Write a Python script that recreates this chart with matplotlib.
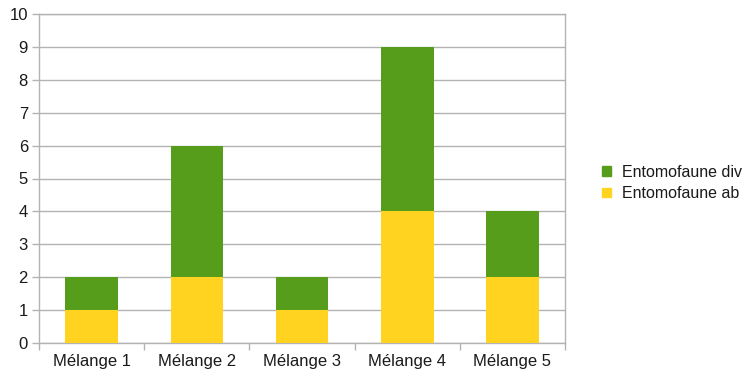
import matplotlib
matplotlib.use("Agg")
import matplotlib.pyplot as plt
from matplotlib.patches import Patch
import numpy as np

categories = ["Mélange 1", "Mélange 2", "Mélange 3", "Mélange 4", "Mélange 5"]
ab = [1, 2, 1, 4, 2]
div = [1, 4, 1, 5, 2]
yticks = list(range(0, 11))

yellow = "#FFD320"
green = "#579D1C"
grey = "#B3B3B3"

plt.rcParams['font.family'] = ['Liberation Sans', 'DejaVu Sans']

fig = plt.figure(figsize=(7.45, 3.77), dpi=100)
ax = fig.add_axes([39 / 745, 1 - 343 / 377, 526 / 745, 329 / 377])

x = np.arange(len(categories))
ax.bar(x, ab, width=0.5, color=yellow, zorder=3)
ax.bar(x, div, width=0.5, bottom=ab, color=green, zorder=3)

ax.set_xlim(-0.5, len(categories) - 0.5)
ax.set_ylim(0, 10)
ax.set_yticks(yticks)
ax.yaxis.grid(True, color=grey, linewidth=1, zorder=0)

ax.set_xticks(x)
ax.set_xticklabels(categories)
ax.set_xticks(np.arange(-0.5, len(categories)), minor=True)
ax.tick_params(axis='x', which='major', length=0, pad=8, labelsize=12)
ax.tick_params(axis='x', which='minor', length=5, color=grey, width=1)
ax.tick_params(axis='y', length=5, color=grey, width=1, pad=3, labelsize=12)
for t in ax.get_xticklabels() + ax.get_yticklabels():
    t.set_color("#1a1a1a")

for s in ax.spines.values():
    s.set_color(grey)
    s.set_linewidth(1)

handles = [Patch(color=green, label="Entomofaune div"),
           Patch(color=yellow, label="Entomofaune ab")]
fig.legend(handles=handles, loc="center left", bbox_to_anchor=(602 / 745, 1 - 183 / 377),
           frameon=False, fontsize=11.5, handlelength=0.55, handleheight=0.55,
           handletextpad=0.7, labelspacing=0.4, borderaxespad=0, borderpad=0,
           labelcolor="#1a1a1a")

fig.savefig("out.png", dpi=100)
